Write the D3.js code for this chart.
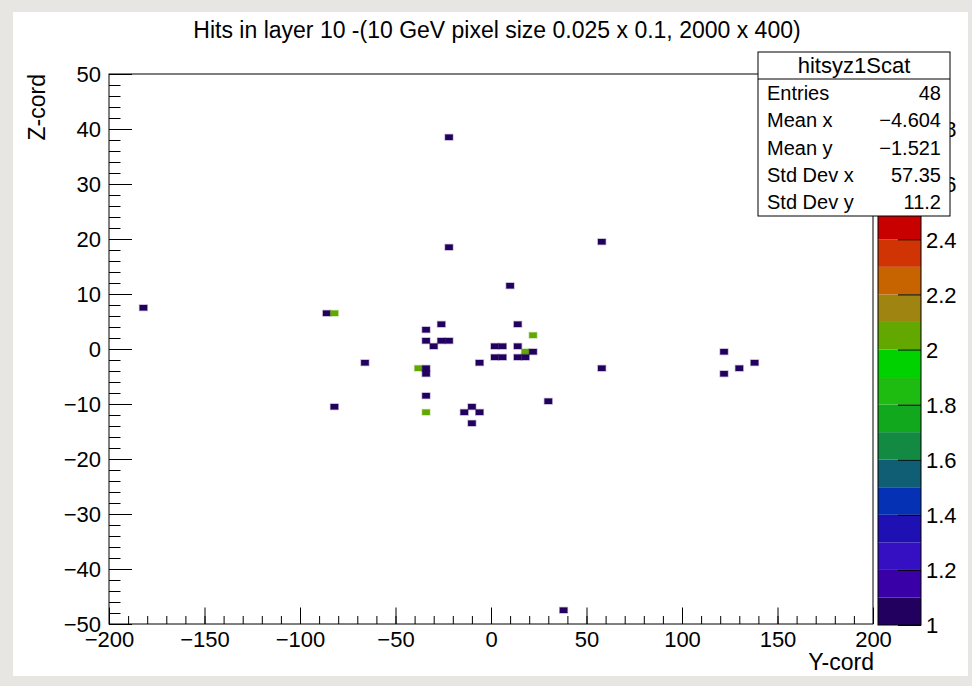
<!DOCTYPE html>
<html>
<head>
<meta charset="utf-8">
<script src="https://cdn.jsdelivr.net/npm/d3@7"></script>
<style>
  html, body { margin: 0; padding: 0; background: #e8e6e3; }
  svg { display: block; }
  text { font-family: "Liberation Sans", Arial, Helvetica, sans-serif; fill: #000; }
</style>
</head>
<body>
<svg id="chart" width="972" height="686"></svg>
<script>
// ---------------- data ----------------
const chartTitle = "Hits in layer 10 -(10 GeV pixel size 0.025 x 0.1, 2000 x 400)";
const xTitle = "Y-cord";
const yTitle = "Z-cord";
const histName = "hitsyz1Scat";

// bin centres (Y-cord, Z-cord) and bin contents of filled cells
const cellY = [-182, -86, -82, -82, -66, -22, -22, 10, 58, 58, 122, 122, 130, 138, 30, 38,
               -26, -34, -34, -30, -26, -22, -38, -34, -34, -6, -34, -34, -10, -14, -6, -10,
               14, 22, 2, 6, 2, 6, 14, 18, 22, 14, 18];
const cellZ = [7.5, 6.5, 6.5, -10.5, -2.5, 38.5, 18.5, 11.5, 19.5, -3.5, -0.5, -4.5, -3.5, -2.5, -9.5, -47.5,
               4.5, 3.5, 1.5, 0.5, 1.5, 1.5, -3.5, -3.5, -4.5, -2.5, -8.5, -11.5, -10.5, -11.5, -11.5, -13.5,
               4.5, 2.5, 0.5, 0.5, -1.5, -1.5, 0.5, -0.5, -0.5, -1.5, -1.5];
const cellW = [1, 1, 2, 1, 1, 1, 1, 1, 1, 1, 1, 1, 1, 1, 1, 1,
               1, 1, 1, 1, 1, 1, 2, 1, 1, 1, 1, 2, 1, 1, 1, 1,
               1, 2, 1, 1, 1, 1, 1, 2, 1, 1, 1];

const xTickValues = [-200, -150, -100, -50, 0, 50, 100, 150, 200];
const yTickValues = [-50, -40, -30, -20, -10, 0, 10, 20, 30, 40, 50];
const zTickValues = [1, 1.2, 1.4, 1.6, 1.8, 2, 2.2, 2.4, 2.6, 2.8, 3];

const statLabels = ["Entries", "Mean x", "Mean y", "Std Dev x", "Std Dev y"];
const statValues = ["48", "\u22124.604", "\u22121.521", "57.35", "11.2"];

// palette (20 bands from 1 to 3)
const palette = ["#22005f", "#3a00a8", "#3410c2", "#1e10b2", "#0532b4", "#0f5e74", "#128a42", "#12a81e",
                 "#1ebc10", "#00d200", "#62a800", "#a08412", "#c86400", "#d03404", "#c80000",
                 "#c40010", "#c00020", "#bc0030", "#b80040", "#b40050"];

// ---------------- layout ----------------
const svg = d3.select("#chart");
const frame = { left: 109, right: 873, top: 74, bottom: 624 };
const binWidthY = 4, binWidthZ = 1;

svg.append("rect").attr("x", 13).attr("y", 12).attr("width", 955).attr("height", 664).attr("fill", "#ffffff");

const x = d3.scaleLinear().domain([-200, 200]).range([frame.left, frame.right]);
const y = d3.scaleLinear().domain([-50, 50]).range([frame.bottom, frame.top]);
const zMin = 1, zMax = 3;
const thresholds = d3.range(1, 20).map(i => +(zMin + i * 0.1).toFixed(1));
const color = d3.scaleThreshold().domain(thresholds).range(palette);

// cells
const cells = cellY.map((c, i) => ({ y: c, z: cellZ[i], w: cellW[i] }));
svg.append("g").selectAll("rect").data(cells).join("rect")
  .attr("x", d => x(d.y - binWidthY / 2))
  .attr("y", d => y(d.z + binWidthZ / 2))
  .attr("width", d => x(d.y + binWidthY / 2) - x(d.y - binWidthY / 2))
  .attr("height", d => y(d.z - binWidthZ / 2) - y(d.z + binWidthZ / 2))
  .attr("fill", d => color(d.w))
  .attr("stroke", d => color(d.w)).attr("stroke-opacity", 0.35).attr("stroke-width", 1.4);

// axes
const fmt = d => String(d).replace("-", "\u2212");
const xMinor = d3.range(-200, 201, 10);
const yMinor = d3.range(-50, 51, 2);

const gxMinor = svg.append("g").attr("transform", `translate(0,${frame.bottom})`)
  .call(d3.axisBottom(x).tickValues(xMinor).tickSize(-8).tickFormat(""));
const gx = svg.append("g").attr("transform", `translate(0,${frame.bottom})`)
  .call(d3.axisBottom(x).tickValues(xTickValues).tickSize(-16.5).tickFormat(fmt));
const gyMinor = svg.append("g").attr("transform", `translate(${frame.left},0)`)
  .call(d3.axisLeft(y).tickValues(yMinor).tickSize(-11.5).tickFormat(""));
const gy = svg.append("g").attr("transform", `translate(${frame.left},0)`)
  .call(d3.axisLeft(y).tickValues(yTickValues).tickSize(-23).tickFormat(fmt));

[gxMinor, gx, gyMinor, gy].forEach(g => {
  g.select(".domain").remove();
  g.selectAll(".tick line").attr("stroke", "#000").attr("stroke-width", 1);
});
gx.selectAll(".tick text").attr("font-size", 22).attr("dy", "0").attr("y", 23);
gy.selectAll(".tick text").attr("font-size", 22).attr("x", -8).attr("dy", "0.35em");

// frame
svg.append("rect").attr("x", frame.left).attr("y", frame.top)
  .attr("width", frame.right - frame.left).attr("height", frame.bottom - frame.top)
  .attr("fill", "none").attr("stroke", "#000").attr("stroke-width", 1);

// axis titles
svg.append("text").attr("x", frame.right + 1).attr("y", 670).attr("text-anchor", "end")
  .attr("font-size", 23).text(xTitle);
svg.append("text").attr("transform", `translate(45,${frame.top}) rotate(-90)`)
  .attr("text-anchor", "end").attr("font-size", 23).text(yTitle);

// title
svg.append("text").attr("x", 497).attr("y", 38).attr("text-anchor", "middle")
  .attr("font-size", 23).text(chartTitle);

// colour bar
const cb = { left: 878, right: 921 };
const z = d3.scaleLinear().domain([zMin, zMax]).range([frame.bottom + 1, frame.top]);
const bands = d3.range(20).map(i => ({ lo: +(zMin + i * 0.1).toFixed(1), hi: +(zMin + (i + 1) * 0.1).toFixed(1), c: palette[i] }));
svg.append("g").selectAll("rect").data(bands).join("rect")
  .attr("x", cb.left).attr("width", cb.right - cb.left)
  .attr("y", d => z(d.hi)).attr("height", d => z(d.lo) - z(d.hi))
  .attr("fill", d => d.c);
svg.append("rect").attr("x", cb.left).attr("y", frame.top).attr("width", cb.right - cb.left)
  .attr("height", frame.bottom + 1 - frame.top).attr("fill", "none").attr("stroke", "#000");
const gz = svg.append("g").attr("transform", `translate(${cb.right},0)`)
  .call(d3.axisRight(z).tickValues(zTickValues).tickSize(-23)
    .tickFormat(d => String(+d.toFixed(1))));
gz.select(".domain").remove();
gz.selectAll(".tick line").attr("stroke", "#000");
gz.selectAll(".tick text").attr("font-size", 22).attr("x", 5).attr("dy", "0.35em");

// stats box
const sb = { left: 758, right: 950, top: 52, titleBottom: 79, bottom: 216 };
svg.append("rect").attr("x", sb.left).attr("y", sb.top).attr("width", sb.right - sb.left)
  .attr("height", sb.bottom - sb.top).attr("fill", "#fff").attr("stroke", "#000");
svg.append("line").attr("x1", sb.left).attr("x2", sb.right).attr("y1", sb.titleBottom).attr("y2", sb.titleBottom)
  .attr("stroke", "#000");
svg.append("text").attr("x", (sb.left + sb.right) / 2).attr("y", 73).attr("text-anchor", "middle")
  .attr("font-size", 22).text(histName);
const rowY = d3.scaleLinear().domain([0, 4]).range([100, 209]);
statLabels.forEach((lab, i) => {
  svg.append("text").attr("x", sb.left + 9).attr("y", rowY(i)).attr("font-size", 20).text(lab);
  svg.append("text").attr("x", 941).attr("y", rowY(i)).attr("text-anchor", "end").attr("font-size", 20).text(statValues[i]);
});
</script>
</body>
</html>
